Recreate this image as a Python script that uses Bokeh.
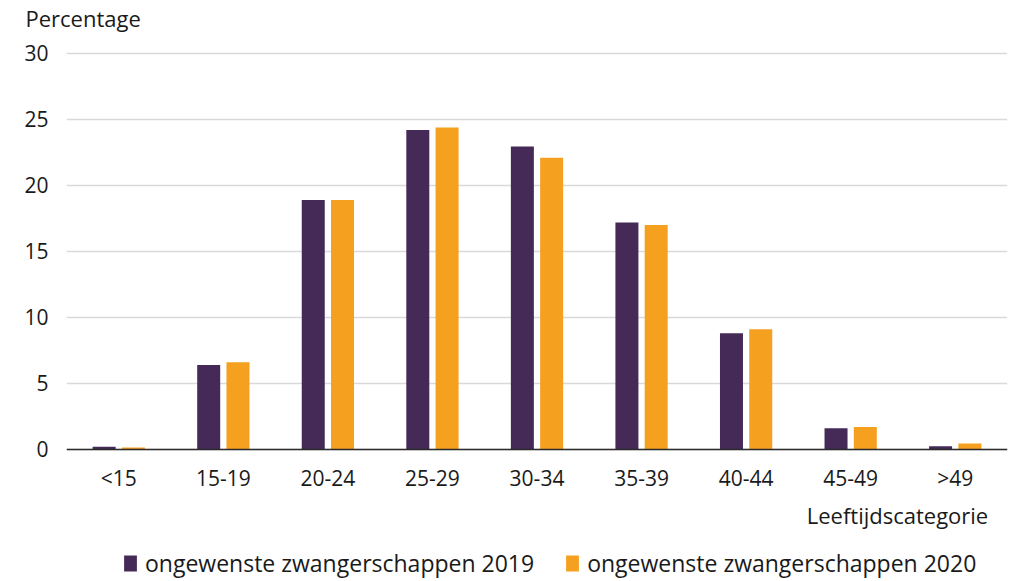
from bokeh.plotting import figure
from bokeh.models import ColumnDataSource, FactorRange, Range1d, Legend, LegendItem, Title, FixedTicker, Span
from bokeh.core.properties import value
from bokeh.transform import dodge
from bokeh.embed import file_html
from bokeh.resources import INLINE

categories = ["<15", "15-19", "20-24", "25-29", "30-34", "35-39", "40-44", "45-49", ">49"]
values_2019 = [0.2, 6.4, 18.9, 24.2, 22.95, 17.2, 8.8, 1.6, 0.25]
values_2020 = [0.15, 6.6, 18.9, 24.4, 22.1, 17.0, 9.1, 1.7, 0.45]
y_ticks = [0, 5, 10, 15, 20, 25, 30]
x_title = "Leeftijdscategorie"
y_title = "Percentage"
label_2019 = "ongewenste zwangerschappen 2019"
label_2020 = "ongewenste zwangerschappen 2020"

PURPLE = "#452a58"
ORANGE = "#f5a01f"
FONT = "Open Sans"
TXT = "#1a1a1a"

source = ColumnDataSource(dict(cat=categories, v2019=values_2019, v2020=values_2020))

p = figure(x_range=FactorRange(*categories), y_range=Range1d(-9.85, 31.59),
           frame_width=941, frame_height=547, output_backend="svg", toolbar_location=None,
           x_axis_location=None,
           min_border_left=66, min_border_right=5, min_border_top=28, min_border_bottom=0)
p.outline_line_color = None
p.background_fill_color = "white"
p.border_fill_color = "white"

r1 = p.vbar(x=dodge("cat", -0.14, range=p.x_range), top="v2019", width=0.22, source=source,
            fill_color=PURPLE, line_color=None)
r2 = p.vbar(x=dodge("cat", 0.14, range=p.x_range), top="v2020", width=0.22, source=source,
            fill_color=ORANGE, line_color=None)

p.xgrid.grid_line_color = None
p.ygrid.grid_line_color = "#d9d9d9"
p.ygrid.grid_line_width = 1.5
p.yaxis.ticker = FixedTicker(ticks=y_ticks)
p.ygrid.ticker = FixedTicker(ticks=y_ticks)
p.yaxis.axis_line_color = None
p.yaxis.major_tick_line_color = None
p.yaxis.minor_tick_line_color = None
p.yaxis.major_label_standoff = 12
p.yaxis.major_label_text_font = FONT
p.yaxis.major_label_text_font_size = "21px"
p.yaxis.major_label_text_color = TXT

# baseline (x axis line)
p.add_layout(Span(location=0, dimension="width", line_color="#2b2b2b", line_width=1.5))

# category labels under the baseline
p.text(x="cat", y=0, text="cat", source=source, y_offset=29,
       text_align="center", text_baseline="middle",
       text_font=value(FONT), text_font_size="21px", text_color=TXT)

# x title, right aligned
p.text(x=[categories[-1]], y=[0], text=[x_title], x_offset=33, y_offset=66,
       text_align="right", text_baseline="middle",
       text_font=value(FONT), text_font_size="22px", text_color=TXT)

p.title = Title(text=y_title, align="left", offset=-41, text_font=FONT,
                text_font_size="22px", text_font_style="normal", text_color=TXT, standoff=0)

legend = Legend(items=[LegendItem(label=label_2019, renderers=[r1]),
                       LegendItem(label=label_2020, renderers=[r2])],
                orientation="horizontal", location=(56, 0),
                label_text_font=FONT, label_text_font_size="23px", label_text_color=TXT,
                label_height=20, glyph_width=16, glyph_height=20, spacing=30, label_standoff=7,
                border_line_color=None, background_fill_alpha=0, padding=0, margin=0)
p.add_layout(legend, "center")

open("out.html", "w").write(file_html(p, INLINE))
